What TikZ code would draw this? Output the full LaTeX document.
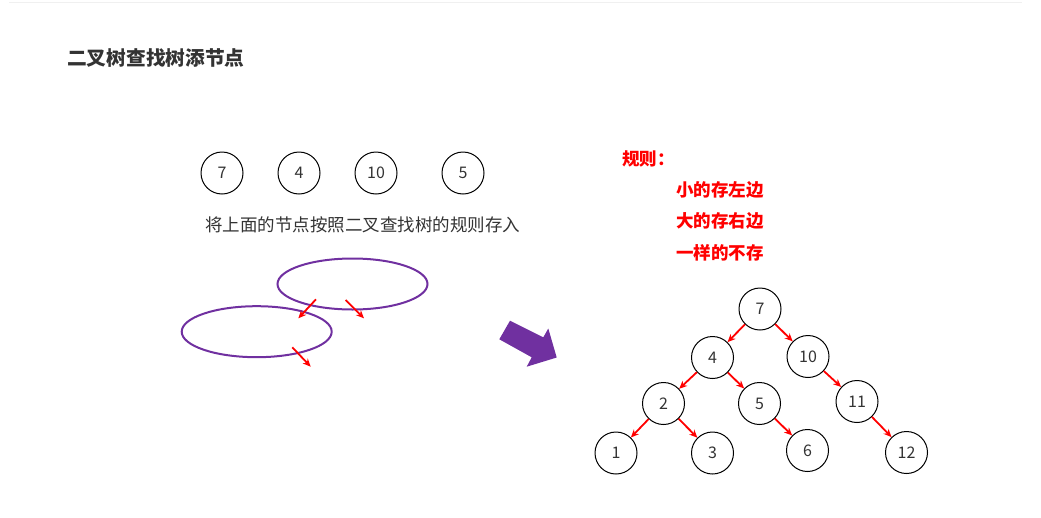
\documentclass[tikz,border=0pt]{standalone}
\usepackage{fontspec}
\setmainfont{Noto Sans CJK SC}
\usetikzlibrary{arrows.meta}
\definecolor{purp}{RGB}{112,48,160}
\definecolor{txt}{RGB}{51,51,51}
\definecolor{rline}{RGB}{240,240,240}
\begin{document}
\begin{tikzpicture}[x=1pt,y=-1pt,
  numnode/.style={circle,draw=black,line width=1pt,minimum size=42pt,inner sep=0pt,
    font=\fontsize{16}{16}\selectfont,text=txt},
  redarrow/.style={draw=red,line width=1.8pt,-{Stealth[length=8pt,width=7pt]}},
  txtnode/.style={anchor=west,inner sep=0pt},
  rule/.style={txtnode,text=red,font=\fontsize{17.5}{17.5}\selectfont\bfseries},
  oval/.style={draw=purp,line width=2pt}]
\useasboundingbox (0,0) rectangle (1041,517);
\draw[rline,line width=1.5pt] (9,2.5) -- (1022,2.5);
% title
\node[txtnode,text=txt,font=\fontsize{19.7}{19.7}\selectfont\bfseries] (title) at (67,58) {二叉树查找树添节点};
% top circles
\node[numnode] (t7) at (222,173) {7};
\node[numnode] (t4) at (299,173) {4};
\node[numnode] (t10) at (376,173) {10};
\node[numnode] (t5) at (463,173) {5};
\node[txtnode,text=txt,font=\fontsize{17.5}{17.5}\selectfont] (desc) at (205,225) {将上面的节点按照二叉查找树的规则存入};
% ellipses
\draw[oval] (352.5,284) ellipse [x radius=75, y radius=25.5];
\draw[oval] (256.7,331.7) ellipse [x radius=75, y radius=25.5];
\coordinate (a1s) at (316,299.3); \coordinate (a1e) at (298.3,318.3);
\coordinate (a2s) at (345.7,300); \coordinate (a2e) at (364,318.3);
\coordinate (a3s) at (292.3,347.3); \coordinate (a3e) at (310.7,366.7);
\draw[redarrow] (a1s) -- (a1e);
\draw[redarrow] (a2s) -- (a2e);
\draw[redarrow] (a3s) -- (a3e);
% big arrow
\fill[purp] (510,320.7) -- (543.3,337.3) -- (548.3,328.5) -- (556.7,357.5) -- (526.7,366.7) -- (531.7,357.3) -- (499.3,339.3) -- cycle;
% rules
\node[rule] (r0) at (622,159) {规则：};
\node[rule] (r1) at (676,190) {小的存左边};
\node[rule] (r2) at (676,221) {大的存右边};
\node[rule] (r3) at (676,253) {一样的不存};
% tree
\node[numnode] (n7) at (760,309) {7};
\node[numnode] (n4) at (712.5,357.5) {4};
\node[numnode] (n10) at (808,356.5) {10};
\node[numnode] (n2) at (663.5,403.5) {2};
\node[numnode] (n5) at (759.5,403.5) {5};
\node[numnode] (n11) at (857,401.5) {11};
\node[numnode] (n1) at (616,453) {1};
\node[numnode] (n3) at (712.5,453) {3};
\node[numnode] (n6) at (807.5,450.5) {6};
\node[numnode] (n12) at (906.5,452.5) {12};
\draw[redarrow] (n7) -- (n4);
\draw[redarrow] (n7) -- (n10);
\draw[redarrow] (n4) -- (n2);
\draw[redarrow] (n4) -- (n5);
\draw[redarrow] (n10) -- (n11);
\draw[redarrow] (n2) -- (n1);
\draw[redarrow] (n2) -- (n3);
\draw[redarrow] (n5) -- (n6);
\draw[redarrow] (n11) -- (n12);
\end{tikzpicture}
\end{document}
